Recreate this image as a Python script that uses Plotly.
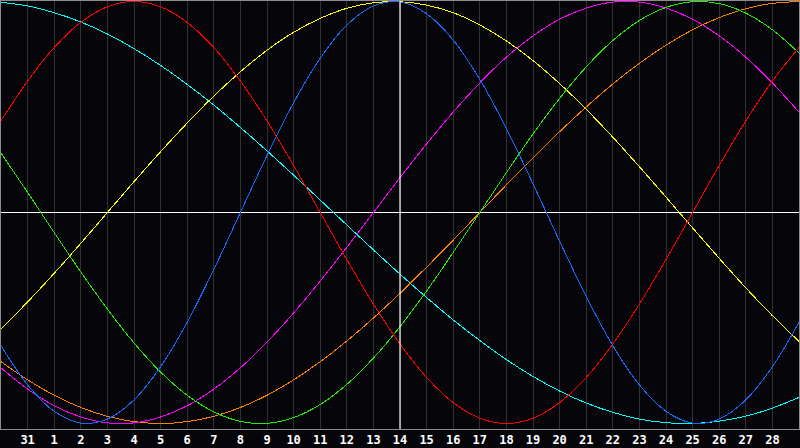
import plotly.graph_objects as go

# day index 0..30 along the x axis; labels of the calendar days
day_labels = ["30", "31", "1", "2", "3", "4", "5", "6", "7", "8", "9", "10", "11", "12",
              "13", "14", "15", "16", "17", "18", "19", "20", "21", "22", "23", "24",
              "25", "26", "27", "28", "1"]
today_label = "14"

# cycle values, one per day (-1 .. +1)
physical_23 = [-0.631, -0.817, -0.942, -0.998, -0.979, -0.888, -0.731, -0.520, -0.270, 0.000,
               0.270, 0.520, 0.731, 0.888, 0.979, 0.998, 0.942, 0.817, 0.631, 0.398,
               0.136, -0.136, -0.398, -0.631, -0.817, -0.942, -0.998, -0.979, -0.888, -0.731,
               -0.520]
emotional_28 = [0.434, 0.623, 0.782, 0.901, 0.975, 1.000, 0.975, 0.901, 0.782, 0.623,
                0.434, 0.223, 0.000, -0.223, -0.434, -0.623, -0.782, -0.901, -0.975, -1.000,
                -0.975, -0.901, -0.782, -0.623, -0.434, -0.223, 0.000, 0.223, 0.434, 0.623,
                0.782]
intellectual_33 = [0.282, 0.095, -0.095, -0.282, -0.458, -0.618, -0.756, -0.866, -0.945, -0.990,
                   -0.999, -0.972, -0.910, -0.815, -0.690, -0.541, -0.372, -0.189, 0.000, 0.189,
                   0.372, 0.541, 0.690, 0.815, 0.910, 0.972, 0.999, 0.990, 0.945, 0.866,
                   0.756]
intuitive_38 = [-0.736, -0.837, -0.916, -0.969, -0.997, -0.997, -0.969, -0.916, -0.837, -0.736,
                -0.614, -0.476, -0.325, -0.165, 0.000, 0.165, 0.325, 0.476, 0.614, 0.736,
                0.837, 0.916, 0.969, 0.997, 0.997, 0.969, 0.916, 0.837, 0.736, 0.614,
                0.476]
aesthetic_43 = [-0.552, -0.424, -0.288, -0.146, 0.000, 0.146, 0.288, 0.424, 0.552, 0.667,
                0.769, 0.854, 0.920, 0.968, 0.994, 0.999, 0.983, 0.947, 0.889, 0.813,
                0.720, 0.611, 0.489, 0.357, 0.217, 0.073, -0.073, -0.217, -0.357, -0.489,
                -0.611]
awareness_48 = [-0.707, -0.793, -0.866, -0.924, -0.966, -0.991, -1.000, -0.991, -0.966, -0.924,
                -0.866, -0.793, -0.707, -0.609, -0.500, -0.383, -0.259, -0.131, 0.000, 0.131,
                0.259, 0.383, 0.500, 0.609, 0.707, 0.793, 0.866, 0.924, 0.966, 0.991,
                1.000]
spiritual_53 = [0.996, 0.979, 0.947, 0.903, 0.846, 0.777, 0.697, 0.607, 0.509, 0.403,
                0.292, 0.177, 0.059, -0.059, -0.177, -0.292, -0.403, -0.509, -0.607, -0.697,
                -0.777, -0.846, -0.903, -0.947, -0.979, -0.996, -1.000, -0.989, -0.965, -0.927,
                -0.876]

series = [
    ("Spiritual", spiritual_53, "#00ffff"),
    ("Awareness", awareness_48, "#ff8000"),
    ("Aesthetic", aesthetic_43, "#ffff00"),
    ("Intuitive", intuitive_38, "#ff00ff"),
    ("Intellectual", intellectual_33, "#22ee00"),
    ("Emotional", emotional_28, "#ff0000"),
    ("Physical", physical_23, "#1a6aff"),
]

x_idx = list(range(len(day_labels)))

fig = go.Figure()
for name, vals, col in series:
    fig.add_trace(go.Scatter(
        x=x_idx, y=vals, mode="lines", name=name,
        line=dict(color=col, width=1, shape="spline", smoothing=1.0),
        hoverinfo="skip",
    ))

today_idx = day_labels.index(today_label)
fig.add_vline(x=today_idx, line=dict(color="#ffffff", width=1.2), layer="above")

bg = "#060509"
fig.update_layout(
    width=800, height=448,
    margin=dict(l=1, r=1, t=1, b=19),
    paper_bgcolor=bg, plot_bgcolor=bg,
    showlegend=False,
    xaxis=dict(
        range=[0, len(day_labels) - 1],
        tickmode="array",
        tickvals=x_idx[1:-1],
        ticktext=day_labels[1:-1],
        showgrid=True, gridcolor="#313134", gridwidth=1,
        zeroline=False,
        showline=True, linecolor="#8c8c8c", linewidth=1, mirror=True,
        ticks="", ticklen=0,
        tickfont=dict(family="DejaVu Sans Mono", size=12, color="#ffffff", weight="bold"),
        fixedrange=True,
    ),
    yaxis=dict(
        range=[-1.026, 1.0024],
        showgrid=False,
        zeroline=True, zerolinecolor="#ffffff", zerolinewidth=1.2,
        showticklabels=False, ticks="",
        showline=True, linecolor="#8c8c8c", linewidth=1, mirror=True,
        fixedrange=True,
    ),
)

post = (
    "document.documentElement.style.margin='0';"
    "document.body.style.margin='0';"
    "document.body.style.padding='0';"
    "document.body.style.overflow='hidden';"
    "document.body.style.background='#060509';"
    "document.querySelectorAll('.scatterlayer path.js-line').forEach(function(p){p.style.shapeRendering='crispEdges';});"
)

fig.write_html("out.html", config={"displayModeBar": False, "staticPlot": True}, post_script=post)
